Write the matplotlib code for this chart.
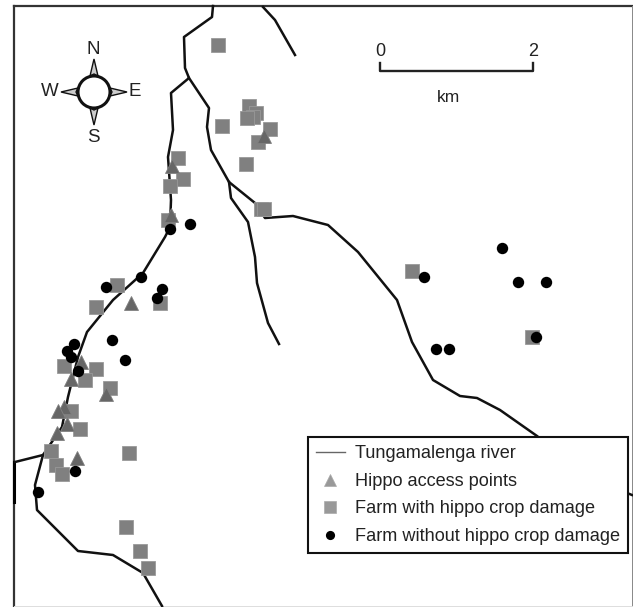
import matplotlib
matplotlib.use('Agg')
import matplotlib.pyplot as plt
from matplotlib.lines import Line2D
from matplotlib.patches import Circle, Polygon

plt.rcParams['font.family'] = ['Liberation Sans', 'DejaVu Sans']

river_west = [(213, 6), (212, 17), (184, 37), (185, 68), (189, 78), (171, 93), (173, 130), (168, 157),
              (171, 200), (170, 227), (165, 237), (143, 273), (113, 300), (87, 332), (78, 357),
              (68, 397), (62, 427), (43, 455), (35, 485), (37, 510), (78, 551), (113, 555),
              (143, 573), (162, 606)]
river_east = [(189, 78), (209, 108), (207, 127), (211, 150), (229, 182), (255, 203), (265, 218),
              (293, 216), (328, 225), (358, 252), (397, 300), (412, 342), (433, 380), (460, 396),
              (477, 398), (500, 410), (537, 436)]
river_east_end = [(627, 493), (632, 495)]
river_branch = [(229, 182), (231, 198), (248, 222), (255, 257), (257, 283), (268, 323), (279, 344)]
river_ne = [(263, 7), (275, 20), (295, 55)]
river_left = [(43, 455), (15, 462)]

squares = [(218, 45), (249, 106), (256, 113), (253, 117), (247, 118), (222, 126), (270, 129), (258, 142),
           (246, 164), (178, 158), (183, 179), (170, 186), (168, 220), (261, 209), (264, 209),
           (117, 285), (160, 303), (96, 307), (64, 366), (96, 369), (85, 380), (110, 388), (71, 411),
           (80, 429), (129, 453), (51, 451), (56, 465), (62, 474), (126, 527), (140, 551), (148, 568),
           (412, 271), (532, 337)]
triangles = [(172, 166), (171, 215), (264, 136), (131, 303), (81, 362), (71, 379), (106, 394),
             (64, 407), (58, 411), (67, 424), (57, 433), (77, 458)]
circles = [(170, 229), (190, 224), (141, 277), (106, 287), (162, 289), (157, 298), (74, 344), (67, 351),
           (71, 357), (112, 340), (125, 360), (78, 371), (75, 471), (38, 492), (424, 277), (502, 248),
           (518, 282), (546, 282), (436, 349), (449, 349), (536, 337)]
legend_labels = ['Tungamalenga river', 'Hippo access points', 'Farm with hippo crop damage',
                 'Farm without hippo crop damage']

fig = plt.figure(figsize=(6.33, 6.07), dpi=100)
ax = fig.add_axes([0, 0, 1, 1])
ax.set_xlim(0, 633)
ax.set_ylim(607, 0)
ax.axis('off')

# map frame: heavy on the left and top, faint on the other two sides
ax.plot([14, 14], [607, 6], color='#333333', lw=1.6)
ax.plot([14, 632], [6, 6], color='#333333', lw=1.6)
ax.plot([632, 632], [6, 607], color='#888888', lw=0.7)
ax.plot([14, 632], [606, 606], color='#dddddd', lw=0.7)
ax.plot([14, 14], [462, 502], color='black', lw=2.2)

for river in [river_west, river_east, river_east_end, river_branch, river_ne, river_left]:
    ax.plot(*zip(*river), color='#111111', lw=1.8, solid_joinstyle='round', zorder=2)

ax.plot(*zip(*squares), ls='none', marker='s', ms=9.8, mfc='#808080', mec='#999999', mew=0.6, zorder=3)
ax.plot(*zip(*triangles), ls='none', marker='^', ms=10, mfc='#666666', mec='#808080', mew=0.6, zorder=4)
ax.plot(*zip(*circles), ls='none', marker='o', ms=8.2, mfc='black', mec='black', mew=0, zorder=5)

# compass
cx, cy = 94, 92
for dx, dy in [(0, -1), (0, 1), (-1, 0), (1, 0)]:
    px, py = -dy, dx
    tip = (cx + dx * 33, cy + dy * 33)
    left = (cx + dx * 16 + px * 4, cy + dy * 16 + py * 4)
    right = (cx + dx * 16 - px * 4, cy + dy * 16 - py * 4)
    ax.add_patch(Polygon([tip, left, (cx + dx * 18, cy + dy * 18), right], fc='#cccccc', ec='#111111', lw=1))
ax.add_patch(Circle((cx, cy), 16, fc='white', ec='#111111', lw=2.2, zorder=3))
for s, x, y in [('N', 93, 50), ('S', 93, 137), ('W', 50, 92), ('E', 135, 92)]:
    ax.text(x, y, s, fontsize=13.5, ha='center', va='center', color='#222222')

# scale bar
ax.plot([380, 380, 533, 533], [63, 71, 71, 63], color='#222222', lw=1.7)
ax.text(380, 52, '0', fontsize=13, ha='center', va='center', color='#222222')
ax.text(533, 52, '2', fontsize=13, ha='center', va='center', color='#222222')
ax.text(448, 97, 'km', fontsize=12.5, ha='center', va='center', color='#222222')

handles = [Line2D([], [], color='#666666', lw=1),
           Line2D([], [], ls='none', marker='^', ms=8.5, mfc='#999999', mec='#aaaaaa', mew=0.5),
           Line2D([], [], ls='none', marker='s', ms=8, mfc='#999999', mec='#aaaaaa', mew=0.5),
           Line2D([], [], ls='none', marker='o', ms=6.6, mfc='black', mec='black', mew=0)]
leg = ax.legend(handles, legend_labels, loc='upper left', bbox_to_anchor=(308, 437),
                bbox_transform=ax.transData, borderaxespad=0, fontsize=13.1, fancybox=False,
                framealpha=1, edgecolor='#111111', handlelength=1.55, handletextpad=0.55,
                labelspacing=0.58, borderpad=0.46, labelcolor='#222222')
leg.get_frame().set_linewidth(1.5)
leg.set_zorder(6)

plt.savefig('out.png', dpi=100)
